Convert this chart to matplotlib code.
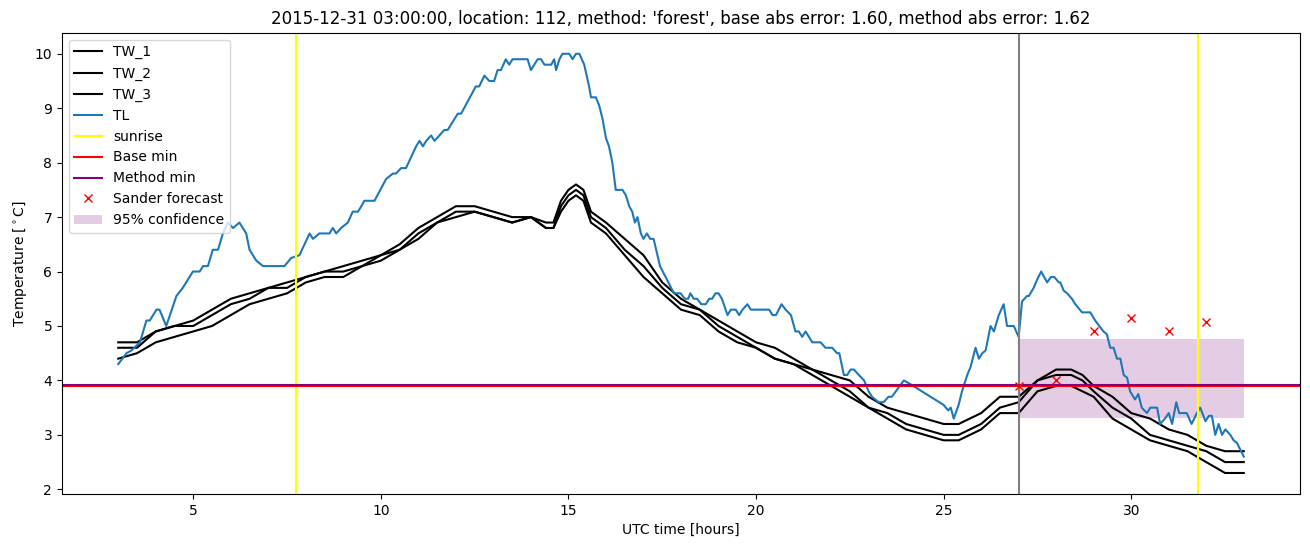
import numpy as np
from matplotlib import pyplot as plt

# TL (air temperature) readings
tl_hours = [3.0, 3.22, 3.35, 3.58, 3.75, 3.84, 4.02, 4.1, 4.28, 4.55, 4.72, 4.99, 5.17, 5.26, 5.39,
            5.52, 5.66, 5.79, 5.92, 6.06, 6.23, 6.41, 6.5, 6.68, 6.86, 7.43, 7.61, 7.83, 8.1, 8.19,
            8.36, 8.63, 8.72, 8.81, 8.94, 9.12, 9.25, 9.39, 9.48, 9.56, 9.83, 10.14, 10.32, 10.4,
            10.54, 10.67, 10.94, 11.03, 11.12, 11.21, 11.34, 11.43, 11.56, 11.69, 11.78, 12.05,
            12.14, 12.53, 12.62, 12.76, 12.89, 13.02, 13.11, 13.2, 13.33, 13.42, 13.51, 13.91, 14.0,
            14.18, 14.27, 14.36, 14.54, 14.62, 14.67, 14.76, 14.84, 15.02, 15.11, 15.2, 15.29, 15.42,
            15.55, 15.6, 15.73, 15.82, 15.91, 16.0, 16.08, 16.17, 16.26, 16.44, 16.53, 16.62, 16.7,
            16.77, 16.84, 16.93, 17.0, 17.09, 17.18, 17.27, 17.44, 17.59, 17.81, 17.99, 18.1, 18.19,
            18.25, 18.34, 18.43, 18.54, 18.66, 18.75, 18.83, 18.92, 19.0, 19.09, 19.24, 19.33,
            19.46, 19.55, 19.64, 19.77, 19.86, 20.35, 20.44, 20.53, 20.68, 20.79, 20.93, 21.05,
            21.14, 21.23, 21.32, 21.5, 21.72, 21.85, 22.03, 22.16, 22.22, 22.34, 22.43, 22.52,
            22.61, 22.74, 22.88, 23.0, 23.09, 23.27, 23.4, 23.53, 23.62, 23.94, 24.07, 25.0, 25.12,
            25.19, 25.27, 25.4, 25.49, 25.63, 25.72, 25.85, 25.94, 26.03, 26.12, 26.25, 26.34,
            26.47, 26.6, 26.69, 26.87, 27.0, 27.09, 27.22, 27.27, 27.4, 27.49, 27.6, 27.76, 27.86,
            27.95, 28.07, 28.11, 28.2, 28.29, 28.42, 28.51, 28.69, 28.91, 29.04, 29.26, 29.35,
            29.44, 29.53, 29.62, 29.71, 29.8, 29.89, 29.97, 30.1, 30.19, 30.28, 30.42, 30.51, 30.69,
            30.77, 30.9, 31.0, 31.09, 31.2, 31.28, 31.37, 31.48, 31.61, 31.75, 31.84, 31.98, 32.07,
            32.15, 32.24, 32.33, 32.42, 32.51, 32.64, 32.73, 32.82, 33.0]
tl_values = [4.3, 4.5, 4.55, 4.7, 5.1, 5.1, 5.3, 5.3, 5.0, 5.55, 5.7, 6.0, 6.0, 6.1, 6.1,
             6.4, 6.4, 6.7, 6.9, 6.8, 6.9, 6.7, 6.4, 6.2, 6.1, 6.1, 6.25, 6.3, 6.7, 6.6,
             6.7, 6.7, 6.8, 6.7, 6.8, 6.9, 7.1, 7.1, 7.2, 7.3, 7.3, 7.7, 7.8, 7.8,
             7.9, 7.9, 8.3, 8.4, 8.3, 8.4, 8.5, 8.4, 8.5, 8.6, 8.6, 8.9,
             8.9, 9.4, 9.4, 9.6, 9.5, 9.5, 9.7, 9.7, 9.9, 9.8, 9.9, 9.9, 9.7,
             9.9, 9.9, 9.8, 9.8, 9.9, 9.7, 9.9, 10.0, 10.0, 9.9, 10.0, 10.0, 9.8,
             9.4, 9.2, 9.2, 9.05, 8.8, 8.45, 8.3, 8.0, 7.5, 7.5, 7.4, 7.2, 7.1,
             6.9, 7.0, 6.7, 6.6, 6.7, 6.6, 6.6, 6.1, 5.9, 5.6, 5.6, 5.5, 5.5,
             5.6, 5.5, 5.5, 5.4, 5.4, 5.5, 5.5, 5.6, 5.6, 5.5, 5.2, 5.3,
             5.3, 5.2, 5.3, 5.4, 5.3, 5.3, 5.2, 5.2, 5.4, 5.3, 5.2, 4.9,
             4.9, 4.8, 4.9, 4.7, 4.7, 4.6, 4.6, 4.5, 4.5, 4.1, 4.1, 4.2,
             4.2, 4.1, 4.0, 3.8, 3.7, 3.6, 3.6, 3.7, 3.7, 4.0, 3.95, 3.55, 3.45,
             3.5, 3.3, 3.55, 3.8, 4.1, 4.25, 4.6, 4.4, 4.5, 4.55, 5.0, 4.9,
             5.2, 5.4, 5.0, 5.0, 4.8, 5.45, 5.55, 5.55, 5.7, 5.85, 6.0, 5.8, 5.9,
             5.9, 5.8, 5.8, 5.65, 5.6, 5.5, 5.4, 5.25, 5.25, 5.1, 4.9, 4.85,
             4.6, 4.6, 4.4, 4.4, 4.1, 4.05, 3.8, 3.65, 3.75, 3.5, 3.4, 3.5, 3.5,
             3.2, 3.3, 3.4, 3.2, 3.6, 3.4, 3.4, 3.4, 3.2, 3.4, 3.5, 3.25, 3.35,
             3.35, 3.0, 3.2, 3.0, 3.1, 3.0, 2.9, 2.85, 2.6]

# TW readings
tw_hours = [3, 3.5, 4, 4.5, 5, 5.5, 6, 6.5, 7, 7.5, 8, 8.5, 9, 9.5, 10, 10.5, 11, 11.5, 12,
            12.5, 13, 13.5, 14, 14.4, 14.6, 14.8, 15, 15.2, 15.4, 15.6, 16, 16.5, 17, 17.5, 18,
            18.5, 19, 19.5, 20, 20.5, 21, 21.5, 22, 22.5, 23, 23.5, 24, 24.5, 25, 25.4, 25.7,
            26, 26.5, 27, 27.5, 28, 28.4, 28.7, 29, 29.5, 30, 30.5, 31, 31.5, 32, 32.5, 33]
tw_1 = [4.7, 4.7, 4.9, 5.0, 5.1, 5.3, 5.5, 5.6, 5.7, 5.8, 5.9, 6.0, 6.1, 6.2, 6.3, 6.5, 6.8,
        7.0, 7.2, 7.2, 7.1, 7.0, 7.0, 6.9, 6.9, 7.3, 7.5, 7.6, 7.5, 7.1, 6.9, 6.6, 6.3, 5.8,
        5.5, 5.3, 5.1, 4.9, 4.7, 4.6, 4.4, 4.2, 4.1, 4.0, 3.7, 3.5, 3.4, 3.3, 3.2, 3.2, 3.3,
        3.4, 3.7, 3.7, 4.0, 4.2, 4.2, 4.1, 3.9, 3.7, 3.4, 3.3, 3.1, 3.0, 2.8, 2.7, 2.7]
tw_2 = [4.6, 4.6, 4.9, 5.0, 5.0, 5.2, 5.4, 5.5, 5.7, 5.7, 5.9, 6.0, 6.0, 6.1, 6.3, 6.4, 6.7,
        6.9, 7.1, 7.1, 7.0, 6.9, 7.0, 6.8, 6.8, 7.2, 7.4, 7.5, 7.4, 7.0, 6.8, 6.4, 6.1, 5.7,
        5.4, 5.3, 5.0, 4.8, 4.6, 4.4, 4.3, 4.2, 4.0, 3.8, 3.5, 3.4, 3.2, 3.1, 3.0, 3.0, 3.1,
        3.2, 3.5, 3.6, 4.0, 4.1, 4.1, 4.0, 3.8, 3.5, 3.3, 3.0, 2.9, 2.8, 2.7, 2.5, 2.5]
tw_3 = [4.4, 4.5, 4.7, 4.8, 4.9, 5.0, 5.2, 5.4, 5.5, 5.6, 5.8, 5.9, 5.9, 6.1, 6.2, 6.4, 6.6,
        6.9, 7.0, 7.1, 7.0, 6.9, 7.0, 6.8, 6.8, 7.1, 7.3, 7.4, 7.3, 6.9, 6.7, 6.3, 5.9, 5.6,
        5.3, 5.2, 4.9, 4.7, 4.6, 4.4, 4.3, 4.1, 3.9, 3.7, 3.5, 3.3, 3.1, 3.0, 2.9, 2.9, 3.0,
        3.1, 3.4, 3.4, 3.8, 3.9, 3.9, 3.8, 3.7, 3.3, 3.1, 2.9, 2.8, 2.7, 2.5, 2.3, 2.3]

sunrise_hours = [7.75, 31.78]
now_hour = 27.0
base_min = 3.9
method_min = 3.918

sander_hours = [27, 28, 29, 30, 31, 32]
sander_values = [3.9, 4.0, 4.9, 5.15, 4.9, 5.07]

conf_hours = [27, 33]
conf_low = 3.31
conf_high = 4.76


def main():
    fig = plt.figure(figsize=(13.1, 5.47), dpi=100)
    ax = fig.add_subplot(111)

    ax.plot(tw_hours, tw_1, color="black", label="TW_1")
    ax.plot(tw_hours, tw_2, color="black", label="TW_2")
    ax.plot(tw_hours, tw_3, color="black", label="TW_3")
    ax.plot(tl_hours, tl_values, color="C0", label="TL")

    for i, h in enumerate(sunrise_hours):
        ax.axvline(h, color="yellow", label="sunrise" if i == 0 else None)
    ax.axvline(now_hour, color="gray")

    ax.axhline(base_min, color="red", label="Base min")
    ax.axhline(method_min, color="purple", label="Method min")

    ax.plot(sander_hours, sander_values, "x", color="red", label="Sander forecast")
    ax.fill_between(conf_hours, conf_low, conf_high, color="purple", alpha=0.2,
                    linewidth=0, label="95% confidence")

    ax.set_title("2015-12-31 03:00:00, location: 112, method: 'forest', "
                 "base abs error: 1.60, method abs error: 1.62")
    ax.set_xlabel("UTC time [hours]")
    ax.set_ylabel("Temperature [$^\\circ$C]")
    ax.legend(loc="upper left")

    fig.subplots_adjust(left=0.0473, right=0.9924, bottom=0.097, top=0.94)
    plt.savefig("out.png")


if __name__ == "__main__":
    main()
